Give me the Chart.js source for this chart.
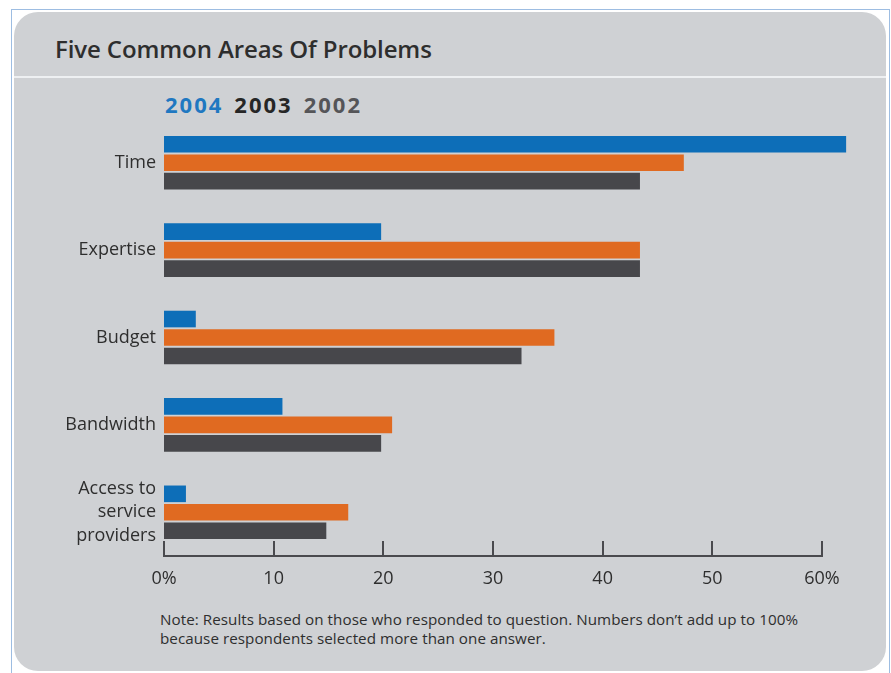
<!DOCTYPE html>
<html>
<head>
<meta charset="utf-8">
<script src="https://cdn.jsdelivr.net/npm/chart.js@4"></script>
<style>
  html, body { margin: 0; padding: 0; background: #fff; }
  body { width: 891px; height: 673px; position: relative; overflow: hidden; font-family: 'Open Sans', sans-serif; }
  .frame { position: absolute; left: 11px; top: 9px; width: 877px; height: 680px; border: 1.5px solid #9dbde2; border-bottom: none; }
  .panel { position: absolute; left: 14px; top: 12px; width: 872px; height: 659px; background: #cfd1d4; border-radius: 24px; }
  .sep { position: absolute; left: 14px; top: 76px; width: 872px; height: 2px; background: #eef0f2; }
  .title { position: absolute; left: 55px; top: 32px; font-size: 24px; font-weight: 600; color: #2e2e2e; letter-spacing: -0.1px; }
  .legend { position: absolute; left: 165px; top: 89px; font-size: 22px; font-weight: 700; letter-spacing: 2px; }
  .legend span { margin-right: 11px; }
  .note { position: absolute; left: 160px; top: 610px; font-size: 15.2px; line-height: 19px; color: #2e2e2e; letter-spacing: 0.05px; }
  canvas { position: absolute; left: 0; top: 0; }
</style>
</head>
<body>
<div class="frame"></div>
<div class="panel"></div>
<div class="sep"></div>
<div class="title">Five Common Areas Of Problems</div>
<div class="legend" id="legend"></div>
<div class="note">Note: Results based on those who responded to question. Numbers don’t add up to 100%<br>because respondents selected more than one answer.</div>
<canvas id="chart" width="891" height="673"></canvas>
<script>
const categories = ['Time', 'Expertise', 'Budget', 'Bandwidth', ['Access to', 'service', 'providers']];
const years      = ['2004', '2003', '2002'];
const values2004 = [62.2, 19.8, 2.9, 10.8, 2.0];
const values2003 = [47.4, 43.4, 35.6, 20.8, 16.8];
const values2002 = [43.4, 43.4, 32.6, 19.8, 14.8];
const xTicks     = [0, 10, 20, 30, 40, 50, 60];

const barColors    = ['#0d6eb8', '#e06a21', '#47474b'];
const legendColors = ['#1f78c1', '#262626', '#555558'];

document.getElementById('legend').innerHTML =
  years.map((y, i) => `<span style="color:${legendColors[i]}">${y}</span>`).join('');

// tick marks pointing up from the axis line
const tickMarks = {
  id: 'tickMarks',
  afterDraw(chart) {
    const x = chart.scales.x, ctx = chart.ctx;
    ctx.save();
    ctx.strokeStyle = '#4a4a4e';
    ctx.lineWidth = 2;
    x.ticks.forEach((t, i) => {
      const px = Math.round(x.getPixelForTick(i));
      ctx.beginPath();
      ctx.moveTo(px, x.top);
      ctx.lineTo(px, x.top - 15);
      ctx.stroke();
    });
    ctx.restore();
  }
};

const series = [values2004, values2003, values2002];

new Chart(document.getElementById('chart'), {
  type: 'bar',
  data: {
    labels: categories,
    datasets: series.map((vals, i) => ({
      label: years[i],
      data: vals,
      backgroundColor: barColors[i],
      borderWidth: 0,
      categoryPercentage: 0.634,
      barPercentage: 0.9,
      clip: false,
    }))
  },
  options: {
    indexAxis: 'y',
    responsive: false,
    animation: false,
    layout: { padding: { top: 119, bottom: 77, left: 0, right: 69 } },
    plugins: { legend: { display: false }, tooltip: { enabled: false } },
    scales: {
      x: {
        min: 0, max: 60,
        afterBuildTicks: s => { s.ticks = xTicks.map(v => ({ value: v })); },
        afterFit: s => { s.height = 40; },
        grid: { display: false, drawTicks: false },
        border: { display: true, color: '#4a4a4e', width: 2 },
        ticks: {
          color: '#2e2e2e',
          padding: 12,
          font: { family: 'Open Sans', size: 18 },
          callback: v => (v === 0 || v === 60) ? v + '%' : String(v),
        },
      },
      y: {
        afterFit: s => { s.width = 164; },
        grid: { display: false, drawTicks: false },
        border: { display: false },
        ticks: {
          color: '#2e2e2e',
          padding: 8,
          font: { family: 'Open Sans', size: 18, lineHeight: 1.3 },
        },
      }
    }
  },
  plugins: [tickMarks]
});
</script>
</body>
</html>
